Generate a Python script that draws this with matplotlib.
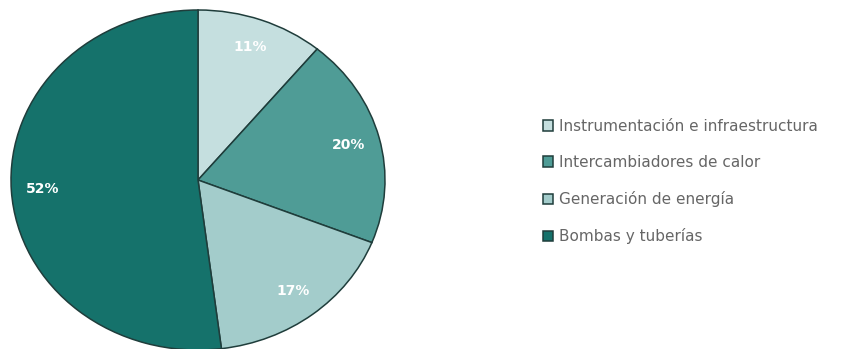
import matplotlib.pyplot as plt

# cost breakdown shares (%)
categories = ["Instrumentación e infraestructura", "Intercambiadores de calor",
              "Generación de energía", "Bombas y tuberías"]
shares = [11, 20, 17, 52]
colors = ["#c5dfdf", "#4f9c96", "#a3cccb", "#15726b"]

W, H = 860, 349
fig = plt.figure(figsize=(W / 100, H / 100), dpi=100)

# pie drawn slightly wider than tall
cx, cy, rx, ry = 198, 180, 187, 170
ax = fig.add_axes([(cx - rx) / W, (H - cy - ry) / H, 2 * rx / W, 2 * ry / H])
wedges, texts, autotexts = ax.pie(
    shares, colors=colors, startangle=90, counterclock=False,
    autopct="%d%%", pctdistance=0.83,
    wedgeprops=dict(edgecolor="#1f3d3b", linewidth=1.1),
    textprops=dict(color="white", fontsize=10, fontweight="bold"))
ax.set_aspect("auto")
ax.set_xlim(-1.0, 1.0)
ax.set_ylim(-1.0, 1.0)
ax.axis("off")

fig.legend(wedges, categories, loc="upper left",
           bbox_to_anchor=(543 / W, 1 - 119 / H), bbox_transform=fig.transFigure,
           frameon=False, borderpad=0, borderaxespad=0,
           handlelength=0.68, handleheight=0.68, handletextpad=0.35,
           labelspacing=1.38, prop=dict(size=11), labelcolor="#666666")

fig.savefig("out.png", dpi=100)
